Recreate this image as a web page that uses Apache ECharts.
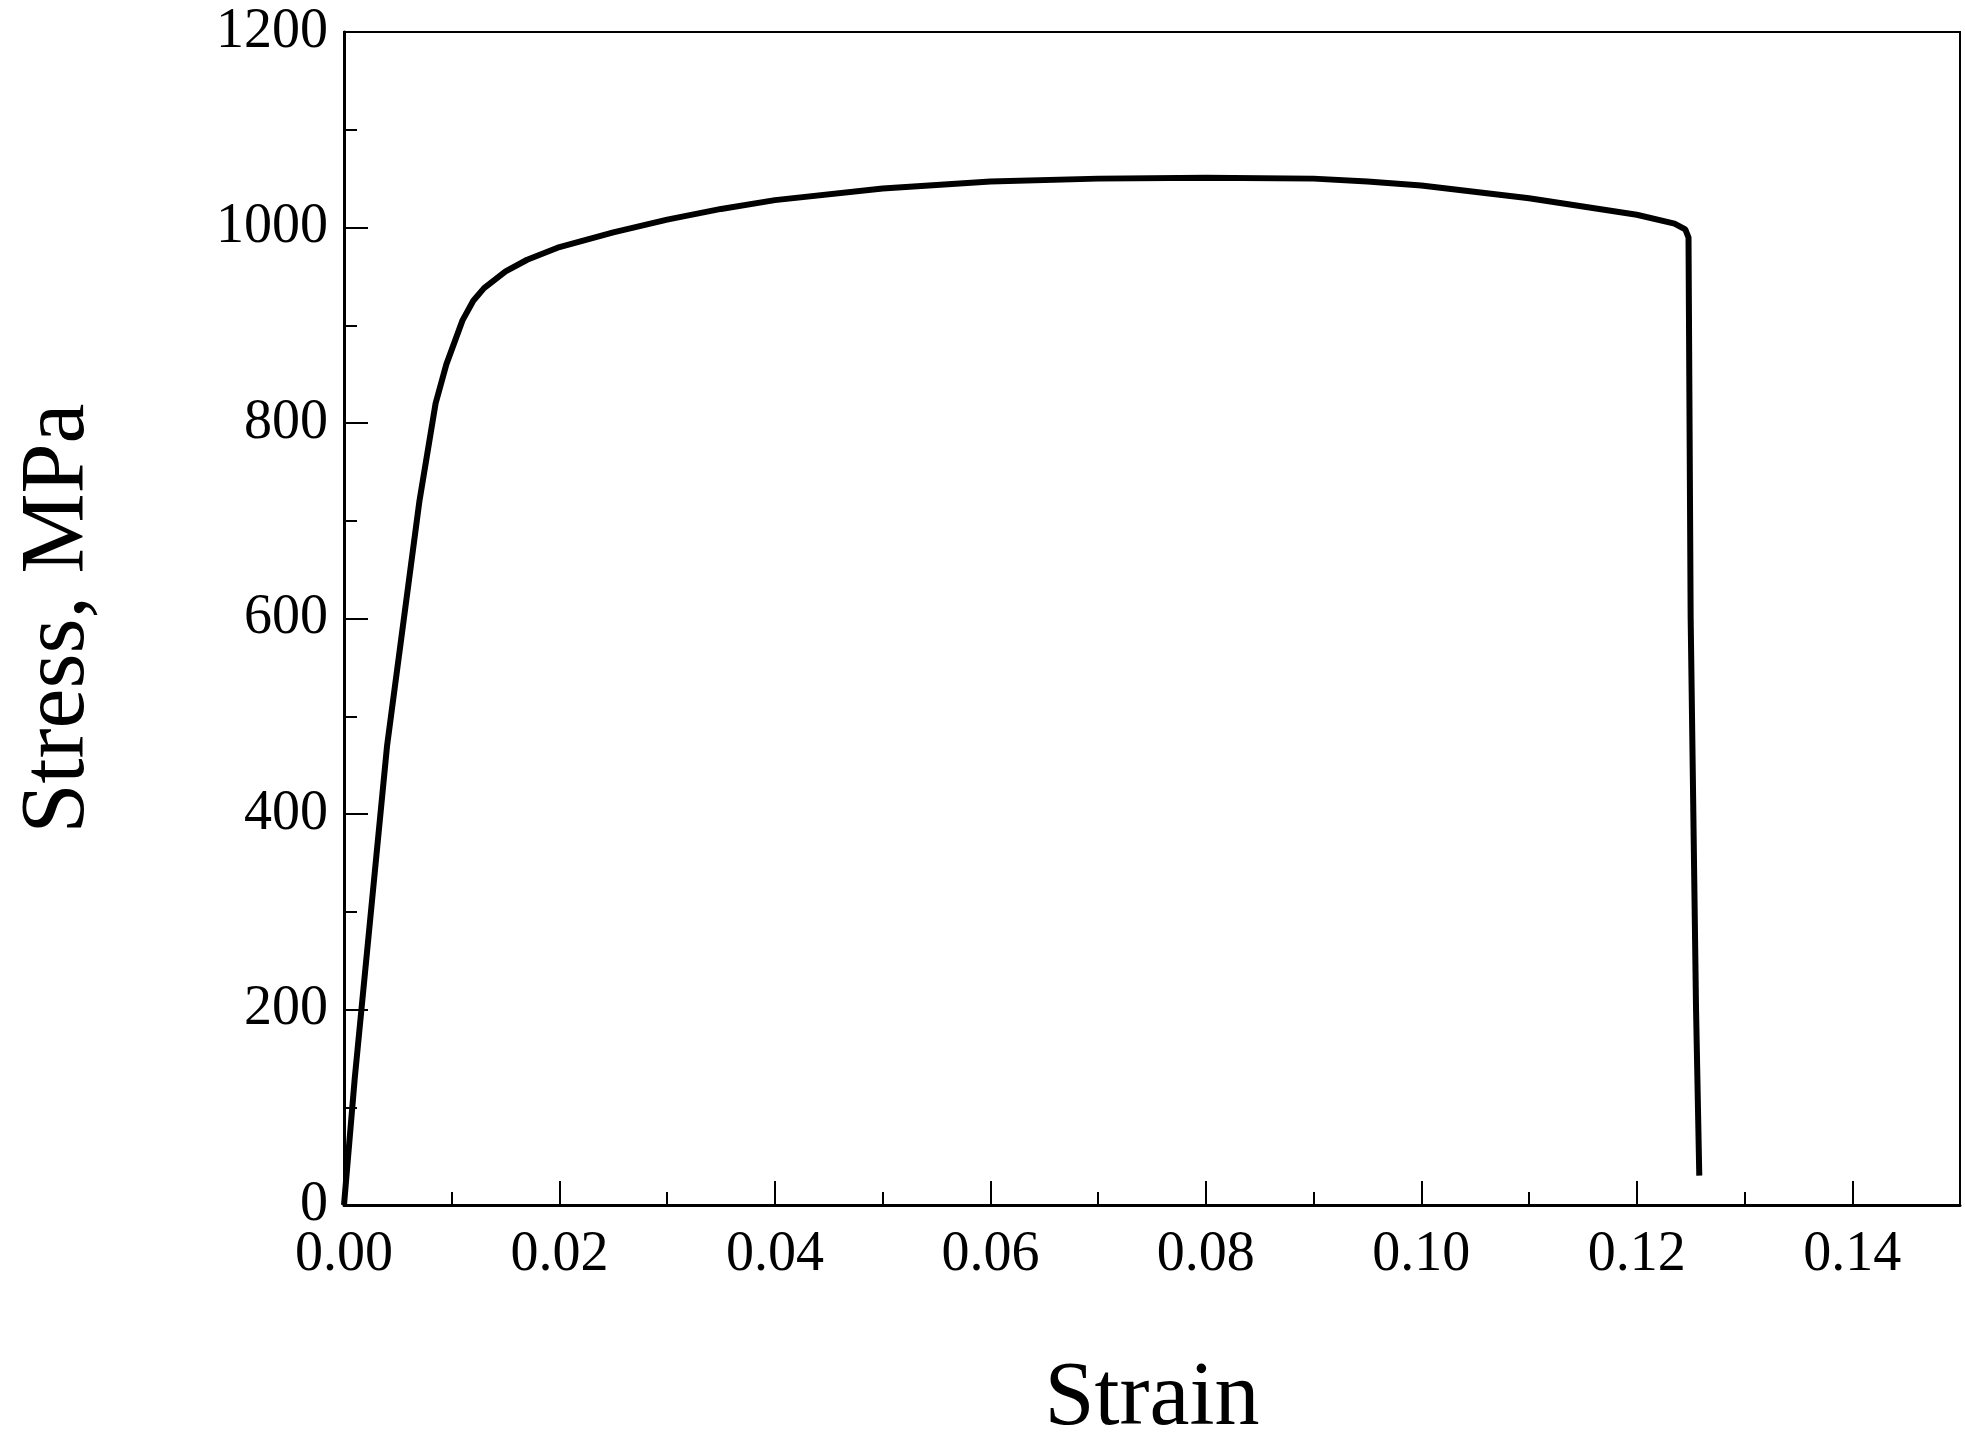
<!DOCTYPE html>
<html><head><meta charset="utf-8">
<script src="https://cdn.jsdelivr.net/npm/echarts@6/dist/echarts.min.js"></script>
<style>html,body{margin:0;background:#fff}#c{width:1965px;height:1450px}</style>
</head><body><div id="c"></div>
<script>
const strain = [0,0.001,0.004,0.007,0.0085,0.0095,0.011,0.012,0.013,0.015,0.017,0.020,0.025,0.030,0.035,0.040,0.050,0.060,0.070,0.080,0.090,0.095,0.100,0.110,0.120,0.1235,0.1245,0.1248,0.1250,0.1255,0.1258];
const stress = [0,130,470,720,820,860,905,925,938,955,967,980,995,1008,1019,1028,1040,1047,1050,1051,1050,1047,1043,1030,1013,1004,998,990,600,200,30];
const xTicks = [0,0.02,0.04,0.06,0.08,0.10,0.12,0.14];
const yTicks = [0,200,400,600,800,1000,1200];
const font = 'Liberation Serif';
const chart = echarts.init(document.getElementById('c'));
const lbl = {fontFamily:font,fontSize:56,color:'#000'};
chart.setOption({
  animation:false,
  grid:{left:344,right:5,top:32,bottom:225,show:true,borderColor:'#000',borderWidth:2},
  xAxis:{type:'value',min:0,max:0.15,interval:0.02,
    name:'Strain',nameLocation:'middle',nameGap:150,nameTextStyle:{fontFamily:font,fontSize:90,color:'#000'},
    axisLine:{lineStyle:{color:'#000',width:3}},
    axisTick:{inside:true,length:24,lineStyle:{color:'#000',width:2}},
    minorTick:{show:true,splitNumber:2,length:13,lineStyle:{color:'#000',width:2}},
    splitLine:{show:false},
    axisLabel:Object.assign({margin:22,formatter:v=>xTicks.some(t=>Math.abs(t-v)<1e-9)?v.toFixed(2):'',showMaxLabel:false},lbl)},
  yAxis:{type:'value',min:0,max:1200,interval:200,
    name:'Stress, MPa',nameLocation:'middle',nameGap:240,nameTextStyle:{fontFamily:font,fontSize:90,color:'#000'},
    axisLine:{show:true,lineStyle:{color:'#000',width:3}},
    axisTick:{show:true,inside:true,length:24,lineStyle:{color:'#000',width:2}},
    minorTick:{show:true,splitNumber:2,length:13,lineStyle:{color:'#000',width:2}},
    splitLine:{show:false},
    axisLabel:Object.assign({margin:16,formatter:v=>yTicks.includes(v)?String(v):''},lbl)},
  series:[{type:'line',data:strain.map((s,i)=>[s,stress[i]]),showSymbol:false,smooth:false,
    lineStyle:{color:'#000',width:6}}]
});
</script></body></html>
